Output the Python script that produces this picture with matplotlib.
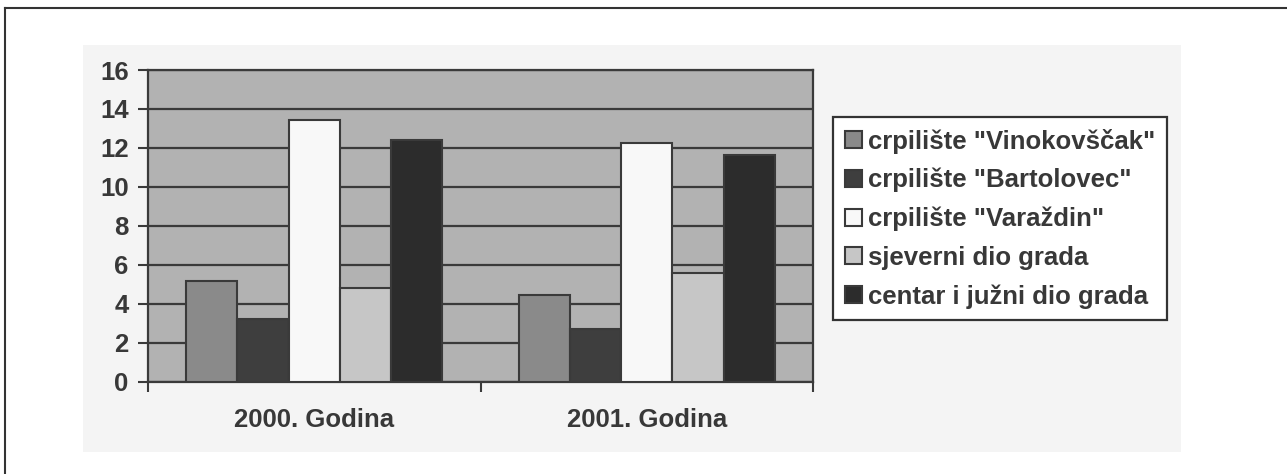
import matplotlib
matplotlib.use("Agg")
import matplotlib.pyplot as plt
from matplotlib.patches import Rectangle
from matplotlib.lines import Line2D
import numpy as np

categories = ["2000. Godina", "2001. Godina"]
series_names = ['crpilište "Vinokovščak"', 'crpilište "Bartolovec"',
                'crpilište "Varaždin"', 'sjeverni dio grada',
                'centar i južni dio grada']
vinokovscak = [5.15, 4.45]
bartolovec = [3.2, 2.7]
varazdin = [13.45, 12.25]
sjeverni = [4.8, 5.6]
centar = [12.4, 11.65]
series_values = [vinokovscak, bartolovec, varazdin, sjeverni, centar]
colors = ["#8a8a8a", "#3e3e3e", "#f8f8f8", "#c6c6c6", "#2c2c2c"]
yticks = [0, 2, 4, 6, 8, 10, 12, 14, 16]

W, H = 1287, 474
fs = 18.5
fig = plt.figure(figsize=(W / 100, H / 100), dpi=100)
fig.patch.set_facecolor("white")
plt.rcParams['font.family'] = ['Liberation Sans', 'DejaVu Sans']
txt = "#383838"
edge = "#3a3a3a"

# scanned light-gray page region and outer frame
fig.add_artist(Rectangle((83 / W, 1 - 452 / H), (1181 - 83) / W, (452 - 45) / H,
                         transform=fig.transFigure, facecolor="#f4f4f4",
                         edgecolor="none", zorder=0))
fig.add_artist(Line2D([5 / W, 1], [1 - 7.5 / H, 1 - 7.5 / H],
                      transform=fig.transFigure, color="#333333", lw=1.5))
fig.add_artist(Line2D([5 / W, 5 / W], [0, 1 - 7.5 / H],
                      transform=fig.transFigure, color="#333333", lw=1.5))

ax = fig.add_axes([148 / W, 1 - 381.7 / H, (813 - 148) / W, (381.7 - 70) / H])
ax.set_facecolor("#b2b2b2")

n = len(series_values)
bw = 0.154
x = np.arange(len(categories))
for j, (vals, c, name) in enumerate(zip(series_values, colors, series_names)):
    ax.bar(x + (j - (n - 1) / 2) * bw, vals, width=bw, color=c,
           edgecolor=edge, linewidth=1.5, label=name, zorder=3)

ax.set_ylim(0, 16)
ax.set_xlim(-0.5, 1.5)
ax.set_yticks(yticks)
ax.set_yticklabels([str(v) for v in yticks], fontsize=fs, fontweight="bold", color=txt)
ax.yaxis.grid(True, color=edge, linewidth=1.6, zorder=1)
ax.set_axisbelow(True)

ax.set_xticks(x)
ax.set_xticklabels(categories, fontsize=fs, fontweight="bold", color=txt)
ax.set_xticks([-0.5, 0.5, 1.5], minor=True)
ax.tick_params(axis="x", which="major", length=0, pad=19)
ax.tick_params(axis="x", which="minor", length=7, width=1.5, color=edge, direction="out")
ax.tick_params(axis="y", length=7, width=1.5, color=edge, direction="out", pad=7)

for s in ["left", "bottom", "right", "top"]:
    ax.spines[s].set_color(edge)
    ax.spines[s].set_linewidth(1.6)

leg = ax.legend(loc="upper left", bbox_to_anchor=(833 / W, 1 - 117 / H),
                bbox_transform=fig.transFigure,
                prop={"family": "Liberation Sans", "weight": "bold", "size": fs},
                frameon=True, fancybox=False, edgecolor="#333333",
                facecolor="white", framealpha=1,
                handlelength=0.66, handleheight=0.66, handletextpad=0.25,
                labelspacing=0.56, borderpad=0.45, borderaxespad=0)
leg.get_frame().set_linewidth(1.6)
for t in leg.get_texts():
    t.set_color(txt)

fig.savefig("out.png", dpi=100)
